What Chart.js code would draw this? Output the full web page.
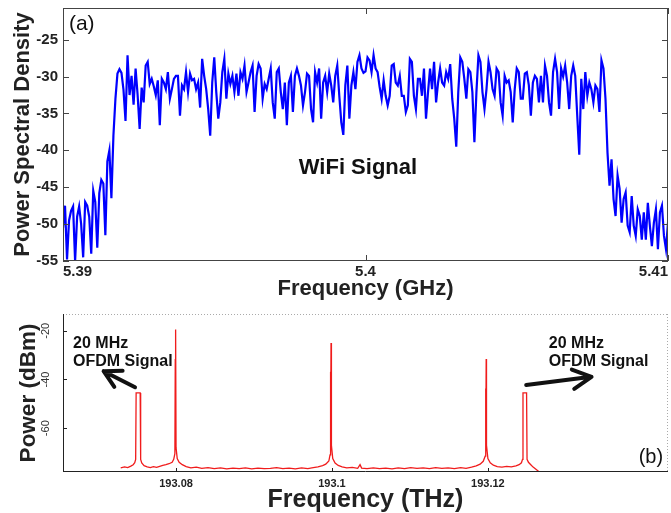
<!DOCTYPE html>
<html>
<head>
<meta charset="utf-8">
<script src="https://cdn.jsdelivr.net/npm/chart.js@4.4.1/dist/chart.umd.min.js"></script>
<style>
  html, body { margin: 0; padding: 0; background: #fff; }
  #wrap { position: relative; width: 671px; height: 513px; overflow: hidden; }
  canvas { position: absolute; left: 0; }
  #psd-chart { top: 0; }
  #opt-chart { top: 300px; }
</style>
</head>
<body>
<div id="wrap">
  <canvas id="psd-chart" width="671" height="300"></canvas>
  <canvas id="opt-chart" width="671" height="213"></canvas>
</div>
<script>
/* ---- (a) WiFi signal, PSD sampled evenly from 5.39 to 5.41 GHz ---- */
var PSD_START = 5.39, PSD_STOP = 5.41;
var PSD_VALUES = [
  -50.5, -47.5, -54.8, -49.5, -48.2, -47.6, -55.0, -49.0, -47.6, -50.0,
  -54.5, -47.0, -47.5, -49.0, -54.0, -45.5, -47.0, -53.2, -45.8, -44.0,
  -44.5, -51.5, -41.5, -40.0, -46.5, -38.0, -33.0, -29.6, -29.0, -29.5,
  -31.8, -36.0, -27.1, -32.5, -29.9, -33.8, -28.9, -32.5, -37.1, -31.5,
  -33.5, -28.5, -28.0, -31.0, -30.3, -31.3, -32.5, -30.5, -36.6, -30.3,
  -30.8, -31.7, -29.4, -33.0, -31.7, -30.3, -29.9, -29.9, -35.3, -31.2,
  -31.7, -29.4, -32.1, -29.6, -30.5, -30.3, -31.7, -30.8, -34.2, -27.6,
  -29.9, -31.7, -34.4, -38.0, -30.8, -27.4, -32.1, -35.7, -33.5, -29.4,
  -27.6, -33.0, -29.6, -31.0, -29.9, -32.1, -29.6, -32.6, -29.4, -30.3,
  -28.5, -32.1, -30.8, -29.4, -28.5, -34.8, -29.9, -28.3, -28.9, -33.0,
  -31.0, -31.7, -30.3, -28.9, -33.5, -35.7, -29.4, -28.9, -32.1, -34.4,
  -30.8, -36.6, -30.8, -29.9, -34.8, -29.9, -28.9, -29.9, -31.2, -33.9,
  -32.1, -29.6, -29.9, -34.4, -36.2, -29.4, -30.8, -28.9, -35.7, -30.8,
  -29.9, -32.1, -29.6, -31.2, -33.5, -29.9, -28.5, -32.6, -36.2, -37.9,
  -31.2, -28.5, -35.7, -31.2, -29.4, -31.7, -28.0, -27.1, -28.9, -29.5,
  -29.3, -27.4, -27.8, -29.4, -27.1, -28.9, -29.4, -31.4, -33.0, -30.5,
  -32.6, -33.9, -32.6, -28.5, -28.3, -30.8, -31.2, -29.9, -32.6, -32.6,
  -34.8, -33.9, -27.6, -28.0, -32.6, -34.4, -30.3, -30.3, -32.6, -28.9,
  -35.7, -32.1, -28.9, -31.7, -28.0, -33.5, -30.8, -28.9, -30.8, -31.2,
  -29.4, -30.3, -28.3, -33.0, -35.7, -39.5, -32.1, -27.4, -28.0, -30.3,
  -33.0, -29.0, -29.4, -32.1, -38.9, -32.1, -27.1, -28.0, -32.1, -34.4,
  -31.7, -28.0, -29.4, -31.7, -32.6, -28.9, -29.4, -33.5, -35.3, -29.9,
  -30.8, -30.5, -32.1, -36.2, -31.7, -28.9, -29.4, -33.0, -33.0, -29.6,
  -29.4, -31.2, -35.3, -30.8, -29.9, -30.3, -33.5, -29.9, -33.5, -28.5,
  -29.9, -33.5, -35.3, -29.4, -27.6, -29.4, -34.4, -28.9, -30.0, -28.5,
  -30.8, -34.4, -29.9, -28.5, -29.9, -35.3, -40.6, -30.3, -34.4, -29.4,
  -32.6, -30.8, -31.7, -33.5, -31.2, -31.7, -34.8, -27.8, -28.9, -33.0,
  -40.3, -44.8, -41.2, -46.6, -48.9, -43.4, -45.2, -49.8, -46.6, -45.7,
  -50.2, -51.1, -46.2, -50.2, -51.6, -48.0, -48.9, -52.1, -48.4, -52.1,
  -47.1, -50.2, -53.0, -49.8, -48.0, -53.4, -48.4, -47.5, -51.6, -53.4,
  -49.8
];
var PSD_X_TICKS = [5.39, 5.4, 5.41];
var PSD_Y_TICKS = [-55, -50, -45, -40, -35, -30, -25];

/* ---- (b) optical spectrum ---- */
var OPT_FREQ = [
  193.0729, 193.0734, 193.0738, 193.0742, 193.0745, 193.0747, 193.07482, 193.07488, 193.0754, 193.07546,
  193.0756, 193.0759, 193.0763, 193.0767, 193.0771, 193.0775, 193.0779, 193.0783, 193.0787, 193.0791,
  193.0795, 193.0797, 193.07985, 193.0799, 193.07993, 193.07996, 193.08, 193.08015, 193.0804, 193.0808,
  193.0813, 193.0819, 193.0826, 193.0833, 193.0841, 193.0849, 193.0857, 193.0865, 193.0873, 193.0881,
  193.0889, 193.0897, 193.0905, 193.0913, 193.0921, 193.0929, 193.0937, 193.0945, 193.0953, 193.0961,
  193.0969, 193.0976, 193.0982, 193.0988, 193.0992, 193.0996, 193.09975, 193.0998, 193.09984, 193.09988,
  193.09993, 193.1001, 193.1004, 193.1008, 193.1013, 193.1019, 193.1026, 193.1033, 193.1036, 193.1038,
  193.1045, 193.1053, 193.1061, 193.1069, 193.1077, 193.1085, 193.1093, 193.1101, 193.1109, 193.1117,
  193.1125, 193.1133, 193.1141, 193.1149, 193.1157, 193.1165, 193.1172, 193.1179, 193.1185, 193.119,
  193.1194, 193.11965, 193.1197, 193.11974, 193.11978, 193.11982, 193.12, 193.1203, 193.1207, 193.1212,
  193.1218, 193.1224, 193.123, 193.1236, 193.124, 193.1243, 193.12444, 193.1245, 193.12496, 193.12502,
  193.1252, 193.1255, 193.1258, 193.1262, 193.1266, 193.1431
];
var OPT_POWER = [
  -76.3, -75.9, -76.2, -75.6, -75.0, -74.2, -72.8, -45.5, -45.5, -72.8,
  -74.3, -75.4, -75.9, -76.2, -75.8, -76.1, -75.7, -75.3, -75.0, -74.6,
  -74.0, -72.8, -70.5, -31.6, -64.0, -19.5, -68.0, -72.5, -74.0, -75.0,
  -75.8, -76.3, -76.0, -76.5, -76.2, -76.6, -76.3, -76.7, -76.4, -76.6,
  -76.3, -76.7, -76.4, -76.6, -76.5, -76.2, -76.6, -76.4, -76.7, -76.3,
  -76.6, -76.2, -75.9, -75.4, -74.8, -73.5, -71.0, -36.8, -62.0, -25.0,
  -67.0, -72.5, -74.3, -75.3, -75.9, -76.3, -76.1, -76.5, -75.0, -76.4,
  -76.6, -76.3, -76.6, -76.4, -76.7, -76.3, -76.6, -76.2, -76.5, -76.3,
  -76.6, -76.2, -76.5, -76.3, -76.6, -76.2, -76.5, -76.0, -75.5, -74.8,
  -73.6, -71.5, -43.7, -66.0, -31.6, -67.0, -72.5, -74.2, -75.2, -75.8,
  -76.0, -75.7, -75.9, -75.5, -75.0, -74.2, -72.8, -45.5, -45.5, -72.8,
  -74.0, -75.0, -76.0, -77.0, -78.0, -78.0
];
var OPT_X_TICKS = [193.08, 193.1, 193.12];
var OPT_Y_TICKS = [-60, -40, -20];

var FONT = '"Liberation Sans", Arial, sans-serif';

function fixAxis(size) {
  return function(scale) {
    if (scale.isHorizontal()) scale.height = size; else scale.width = size;
    scale.paddingLeft = 0; scale.paddingRight = 0;
    scale.paddingTop = 0; scale.paddingBottom = 0;
  };
}
function useTicks(values) {
  return function(scale) {
    scale.ticks = values.map(function(v) { return { value: v }; });
  };
}

function drawArrow(c, x0, y0, x1, y1, len, spread) {
  var ang = Math.atan2(y1 - y0, x1 - x0);
  c.beginPath();
  c.moveTo(x0, y0); c.lineTo(x1, y1);
  c.moveTo(x1 - len * Math.cos(ang - spread), y1 - len * Math.sin(ang - spread));
  c.lineTo(x1, y1);
  c.lineTo(x1 - len * Math.cos(ang + spread), y1 - len * Math.sin(ang + spread));
  c.stroke();
}

// frame, inward ticks and labels for panel (a)
var psdDecor = {
  id: 'psdDecor',
  afterDatasetsDraw: function(chart) {
    var c = chart.ctx, a = chart.chartArea, x = chart.scales.x, y = chart.scales.y;
    c.save();
    c.strokeStyle = '#444'; c.lineWidth = 1;
    c.strokeRect(a.left + 0.5, a.top + 0.5, a.right - a.left - 1, a.bottom - a.top - 1);
    c.beginPath();
    PSD_Y_TICKS.forEach(function(v) {
      var py = Math.round(y.getPixelForValue(v)) + 0.5;
      c.moveTo(a.left, py); c.lineTo(a.left + 6, py);
      c.moveTo(a.right, py); c.lineTo(a.right - 6, py);
    });
    PSD_X_TICKS.forEach(function(v) {
      var px = Math.round(x.getPixelForValue(v)) + 0.5;
      c.moveTo(px, a.bottom); c.lineTo(px, a.bottom - 6);
      c.moveTo(px, a.top); c.lineTo(px, a.top + 6);
    });
    c.stroke();

    c.fillStyle = '#111';
    c.textAlign = 'center'; c.textBaseline = 'middle';
    c.font = '21px ' + FONT;
    c.fillText('(a)', x.getPixelForValue(5.39062), y.getPixelForValue(-22.9));
    c.font = 'bold 22px ' + FONT;
    c.fillText('WiFi Signal', x.getPixelForValue(5.39975), y.getPixelForValue(-42.4));
    c.restore();
  }
};

// axes, rotated y labels, arrows and notes for panel (b)
var optDecor = {
  id: 'optDecor',
  afterDatasetsDraw: function(chart) {
    var c = chart.ctx, a = chart.chartArea, x = chart.scales.x, y = chart.scales.y;
    c.save();
    c.lineWidth = 1;
    c.strokeStyle = '#aaa';
    c.setLineDash([1, 2]);
    c.beginPath();
    c.moveTo(a.left, a.top + 0.5); c.lineTo(a.right, a.top + 0.5);
    c.moveTo(a.right - 0.5, a.top); c.lineTo(a.right - 0.5, a.bottom);
    c.stroke();
    c.setLineDash([]);
    c.strokeStyle = '#222';
    c.beginPath();
    c.moveTo(a.left + 0.5, a.top); c.lineTo(a.left + 0.5, a.bottom);
    c.moveTo(a.left, a.bottom - 0.5); c.lineTo(a.right, a.bottom - 0.5);
    OPT_Y_TICKS.forEach(function(v) {
      var py = Math.round(y.getPixelForValue(v)) + 0.5;
      c.moveTo(a.left, py); c.lineTo(a.left + 4, py);
    });
    OPT_X_TICKS.forEach(function(v) {
      var px = Math.round(x.getPixelForValue(v)) + 0.5;
      c.moveTo(px, a.bottom); c.lineTo(px, a.bottom - 4);
    });
    c.stroke();

    // y tick labels, rotated
    c.fillStyle = '#333';
    c.font = '11px ' + FONT;
    c.textAlign = 'center'; c.textBaseline = 'middle';
    OPT_Y_TICKS.forEach(function(v) {
      c.save();
      c.translate(a.left - 17, y.getPixelForValue(v));
      c.rotate(-Math.PI / 2);
      c.fillText(String(v), 0, 0);
      c.restore();
    });

    // arrows
    c.strokeStyle = '#111'; c.lineWidth = 4; c.lineCap = 'round'; c.lineJoin = 'round';
    drawArrow(c, x.getPixelForValue(193.07474), y.getPixelForValue(-43.2),
                 x.getPixelForValue(193.07071), y.getPixelForValue(-36.6), 19, 0.5);
    drawArrow(c, x.getPixelForValue(193.12491), y.getPixelForValue(-42.3),
                 x.getPixelForValue(193.13329), y.getPixelForValue(-38.9), 21, 0.48);

    c.fillStyle = '#111';
    c.textAlign = 'left';
    c.font = 'bold 16px ' + FONT;
    [193.06679, 193.12782].forEach(function(f) {
      c.fillText('20 MHz', x.getPixelForValue(f), y.getPixelForValue(-25.3));
      c.fillText('OFDM Signal', x.getPixelForValue(f), y.getPixelForValue(-32.8));
    });
    c.textAlign = 'center';
    c.font = '20px ' + FONT;
    c.fillText('(b)', x.getPixelForValue(193.1409), y.getPixelForValue(-71.9));
    c.restore();
  }
};

var psdPoints = PSD_VALUES.map(function(v, i) {
  return { x: PSD_START + i * (PSD_STOP - PSD_START) / (PSD_VALUES.length - 1), y: v };
});
var optPoints = OPT_FREQ.map(function(f, i) { return { x: f, y: OPT_POWER[i] }; });

new Chart(document.getElementById('psd-chart').getContext('2d'), {
  type: 'line',
  data: { datasets: [{ data: psdPoints, borderColor: '#0000ff', borderWidth: 2.2, pointRadius: 0, fill: false, tension: 0 }] },
  options: {
    responsive: false, animation: false, devicePixelRatio: 1,
    layout: { padding: { top: 8, right: 3, left: 0, bottom: 0 } },
    plugins: { legend: { display: false }, tooltip: { enabled: false } },
    scales: {
      x: {
        type: 'linear', min: PSD_START, max: PSD_STOP,
        afterBuildTicks: useTicks(PSD_X_TICKS), afterFit: fixAxis(39),
        grid: { display: false, drawTicks: false }, border: { display: false },
        ticks: { align: 'inner', padding: 2, color: '#222', font: { family: FONT, size: 15, weight: 'bold' },
                 callback: function(v) { return String(v); } },
        title: { display: true, text: 'Frequency (GHz)', color: '#222', padding: { top: 0, bottom: -2 },
                 font: { family: FONT, size: 22, weight: 'bold' } }
      },
      y: {
        min: -55, max: -20.7,
        afterBuildTicks: useTicks(PSD_Y_TICKS), afterFit: fixAxis(63),
        grid: { display: false, drawTicks: false }, border: { display: false },
        ticks: { padding: 5, color: '#222', font: { family: FONT, size: 15, weight: 'bold' } },
        title: { display: true, text: 'Power Spectral Density', color: '#222', padding: { top: 10, bottom: 0 },
                 font: { family: FONT, size: 22, weight: 'bold' } }
      }
    }
  },
  plugins: [psdDecor]
});

new Chart(document.getElementById('opt-chart').getContext('2d'), {
  type: 'line',
  data: { datasets: [{ data: optPoints, borderColor: '#f01c1c', borderWidth: 1.3, pointRadius: 0, fill: false, tension: 0 }] },
  options: {
    responsive: false, animation: false, devicePixelRatio: 1,
    layout: { padding: { top: 14, right: 3, left: 0, bottom: 0 } },
    plugins: { legend: { display: false }, tooltip: { enabled: false } },
    scales: {
      x: {
        type: 'linear', min: 193.0655, max: 193.1431,
        afterBuildTicks: useTicks(OPT_X_TICKS), afterFit: fixAxis(41),
        grid: { display: false, drawTicks: false }, border: { display: false },
        ticks: { padding: 5, color: '#222', font: { family: FONT, size: 11, weight: 'bold' },
                 callback: function(v) { return String(v); } },
        title: { display: true, text: 'Frequency (THz)', color: '#222', padding: { top: 0, bottom: -2 },
                 font: { family: FONT, size: 25, weight: 'bold' } }
      },
      y: {
        min: -78, max: -13.1,
        afterBuildTicks: useTicks(OPT_Y_TICKS), afterFit: fixAxis(63),
        grid: { display: false, drawTicks: false }, border: { display: false },
        ticks: { display: false },
        title: { display: true, text: 'Power (dBm)', color: '#222', padding: { top: 15, bottom: 0 },
                 font: { family: FONT, size: 22.5, weight: 'bold' } }
      }
    }
  },
  plugins: [optDecor]
});
</script>
</body>
</html>
